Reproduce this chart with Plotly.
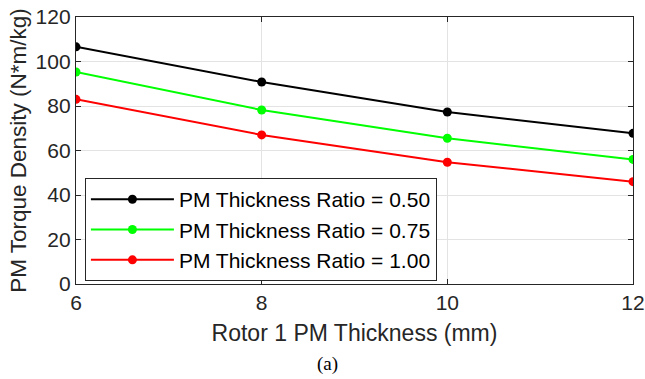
import plotly.graph_objects as go

x_mm = [6, 8, 10, 12]
ratio_050 = [106.6, 90.8, 77.3, 67.7]
ratio_075 = [95.3, 78.2, 65.5, 56.0]
ratio_100 = [83.0, 67.0, 54.7, 46.0]
names = ["PM Thickness Ratio = 0.50", "PM Thickness Ratio = 0.75", "PM Thickness Ratio = 1.00"]
colors = ["#000000", "#00ff00", "#ff0000"]
x_ticks = [6, 8, 10, 12]
y_ticks = [0, 20, 40, 60, 80, 100, 120]

fig = go.Figure()
for ys, nm, c in zip([ratio_050, ratio_075, ratio_100], names, colors):
    fig.add_trace(go.Scatter(x=x_mm, y=ys, name=nm, mode="lines+markers",
                             line=dict(color=c, width=2), marker=dict(color=c, size=9)))

axis_common = dict(showline=True, linecolor="#262626", linewidth=1.3, mirror="ticks",
                   ticks="inside", ticklen=5, tickcolor="#262626", automargin=False,
                   ticklabeloverflow="allow",
                   showgrid=True, gridcolor="#e3e3e3", gridwidth=1, zeroline=False,
                   tickfont=dict(size=21, color="#262626"))
fig.update_xaxes(range=[6, 12], tickvals=x_ticks, title=dict(text="Rotor 1 PM Thickness (mm)",
                 font=dict(size=23, color="#262626"), standoff=11), **axis_common)
fig.update_yaxes(range=[0, 120], tickvals=y_ticks, title=dict(text="PM Torque Density (N*m/kg)",
                 font=dict(size=22.5, color="#262626"), standoff=2), **axis_common)

fig.add_annotation(text="(a)", x=0.451, y=-0.30, xref="paper", yref="paper", showarrow=False,
                   xanchor="center", yanchor="middle",
                   font=dict(family="Liberation Serif", size=19, color="#000000"))

fig.update_layout(
    width=645, height=379,
    margin=dict(l=76, r=12, t=17, b=95),
    paper_bgcolor="white", plot_bgcolor="white",
    font=dict(family="Liberation Sans, Arial, sans-serif", color="#262626"),
    legend=dict(x=0.016, y=0.011, xanchor="left", yanchor="bottom",
                bgcolor="white", bordercolor="#262626", borderwidth=1,
                font=dict(size=21, color="#000000"), itemwidth=83),
    showlegend=True,
)
fig.write_html("out.html", config={"displayModeBar": False},
               post_script="document.body.style.margin='0';document.body.style.overflow='hidden';")
